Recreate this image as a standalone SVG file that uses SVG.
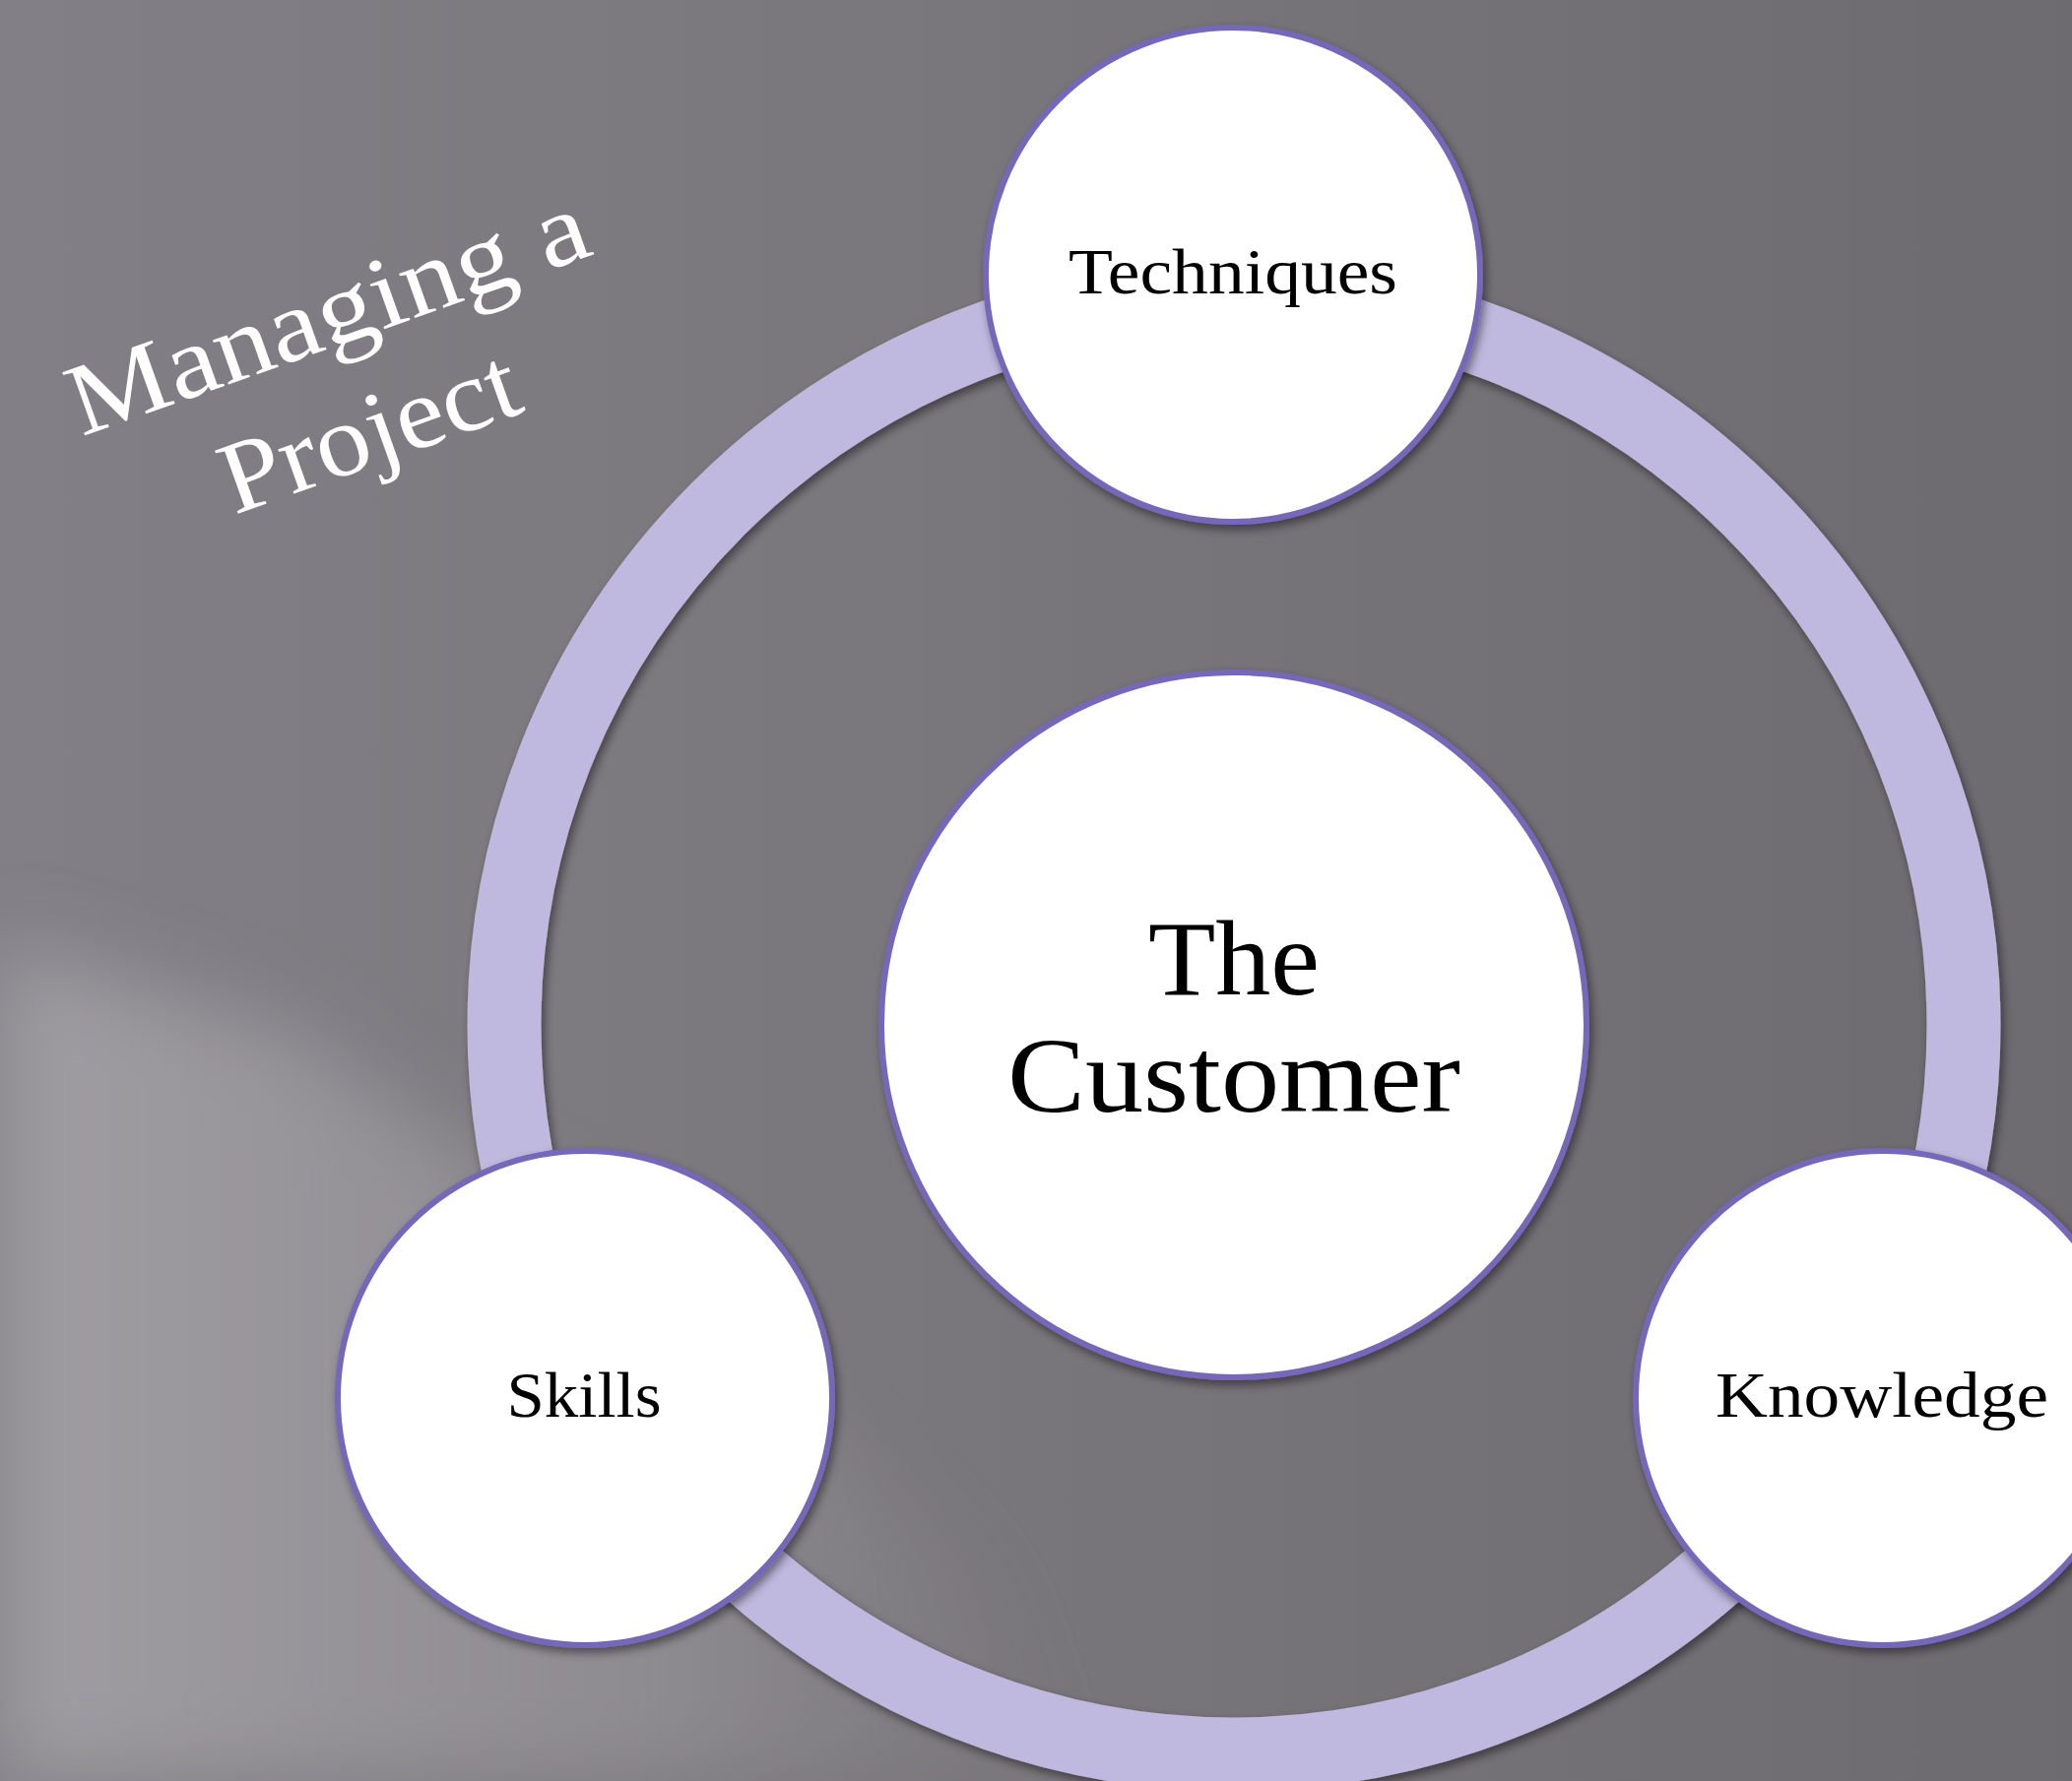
<svg xmlns="http://www.w3.org/2000/svg" width="2104" height="1809" viewBox="0 0 2104 1809">
<defs>
<linearGradient id="bg" x1="0" y1="0" x2="1" y2="0">
<stop offset="0" stop-color="#827f86"/>
<stop offset="0.5" stop-color="#78757b"/>
<stop offset="1" stop-color="#6d6a70"/>
</linearGradient>
<linearGradient id="streak" x1="0" y1="0" x2="1" y2="0">
<stop offset="0" stop-color="#a3a0a6" stop-opacity="0.9"/>
<stop offset="0.6" stop-color="#9a979d" stop-opacity="0.6"/>
<stop offset="1" stop-color="#8e8b91" stop-opacity="0"/>
</linearGradient>
<filter id="blur" x="-20%" y="-20%" width="140%" height="140%"><feGaussianBlur stdDeviation="40"/></filter>
<filter id="sh" x="-10%" y="-10%" width="120%" height="120%"><feDropShadow dx="3" dy="5" stdDeviation="5" flood-color="#000" flood-opacity="0.45"/></filter>
</defs>
<style>
.node{fill:#ffffff;stroke:#7567b9;stroke-width:6;filter:url(#sh)}
.lbl{font-family:"Liberation Serif","Times New Roman",serif;fill:#000;text-anchor:middle}
.ttl{font-family:"Liberation Serif","Times New Roman",serif;fill:#ffffff;text-anchor:middle;font-size:104px}
</style>
<g id="background">
<rect x="0" y="0" width="2104" height="1809" fill="url(#bg)"/>
<polygon points="0,960 300,1050 700,1330 1000,1600 1100,1809 0,1809" fill="url(#streak)" filter="url(#blur)"/>
</g>
<g id="connectors">
<circle cx="1253" cy="1041" r="741" fill="none" stroke="#bfb9df" stroke-width="75" filter="url(#sh)"/>
</g>
<g id="title">
<g transform="translate(365,410) rotate(-19.6)">
<text class="ttl" x="0" y="-63" textLength="554" lengthAdjust="spacingAndGlyphs">Managing a</text>
<text class="ttl" x="0" y="64" textLength="315" lengthAdjust="spacingAndGlyphs">Project</text>
</g>
</g>
<g id="node-techniques">
<circle class="node" cx="1252" cy="279" r="251"/>
<text class="lbl" x="1252" y="298" font-size="66" textLength="334" lengthAdjust="spacingAndGlyphs">Techniques</text>
</g>
<g id="node-skills">
<circle class="node" cx="594" cy="1420" r="251"/>
<text class="lbl" x="593" y="1439" font-size="66" textLength="157" lengthAdjust="spacingAndGlyphs">Skills</text>
</g>
<g id="node-knowledge">
<circle class="node" cx="1912" cy="1420" r="251"/>
<text class="lbl" x="1911" y="1439" font-size="66" textLength="338" lengthAdjust="spacingAndGlyphs">Knowledge</text>
</g>
<g id="node-customer">
<circle class="node" cx="1253" cy="1041" r="358"/>
<text class="lbl" x="1253" y="1010" font-size="108" textLength="174" lengthAdjust="spacingAndGlyphs">The</text>
<text class="lbl" x="1253" y="1129" font-size="108" textLength="460" lengthAdjust="spacingAndGlyphs">Customer</text>
</g>
</svg>
